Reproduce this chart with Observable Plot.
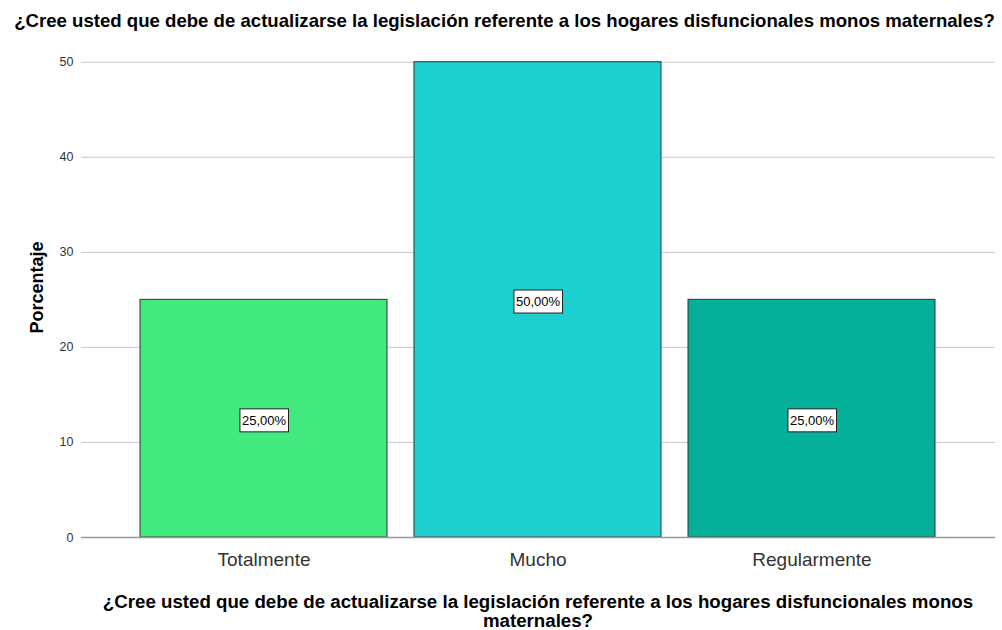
<!DOCTYPE html>
<html>
<head>
<meta charset="utf-8">
<script src="https://cdn.jsdelivr.net/npm/d3@7"></script>
<script src="https://cdn.jsdelivr.net/npm/@observablehq/plot@0.6"></script>
<style>
  html, body { margin: 0; padding: 0; background: #fff; }
  body { width: 1002px; height: 630px; overflow: hidden; font-family: "Liberation Sans", Arial, sans-serif; }
  #title { box-sizing: border-box; height: 30px; padding-top: 7px; padding-left: 7px; line-height: 28px; text-align: center; font-weight: bold; font-size: 18.6px; color: #000; white-space: nowrap; }
  #title span { display: inline-block; height: 23px; line-height: 28px; }
  #xtitle { width: 1002px; text-align: center; font-weight: bold; font-size: 18.7px; line-height: 19px; color: #000; margin-top: 15px; }
  #xtitle div { width: 914px; margin-left: 81px; white-space: nowrap; }
  #chart svg { display: block; }
</style>
</head>
<body>
<div id="title"></div>
<div id="chart"></div>
<div id="xtitle"><div></div></div>
<script>
const title = "¿Cree usted que debe de actualizarse la legislación referente a los hogares disfuncionales monos maternales?";
const xTitleLines = ["¿Cree usted que debe de actualizarse la legislación referente a los hogares disfuncionales monos", "maternales?"];
const yLabel = "Porcentaje";
const categories = ["Totalmente", "Mucho", "Regularmente"];
const percents = [25, 50, 25];
const colors = ["#42E97F", "#1ECFCF", "#05B09B"];
const yTicks = [0, 10, 20, 30, 40, 50];

const tEl = document.getElementById("title");
const tSpan = document.createElement("span");
tSpan.textContent = title;
tEl.appendChild(tSpan);
document.querySelector("#xtitle div").innerHTML = xTitleLines.map(s => s.replace(/&/g, "&amp;").replace(/</g, "&lt;")).join("<br>");

const data = categories.map((c, i) => ({category: c, value: percents[i], color: colors[i]}));
const fmt = v => v.toFixed(2).replace(".", ",") + "%";

const plot = Plot.plot({
  width: 1002,
  height: 547,
  marginTop: 7,
  marginBottom: 40,
  marginLeft: 81,
  marginRight: 7,
  style: {fontFamily: "Liberation Sans, Arial, sans-serif", background: "#fff"},
  x: {domain: categories, paddingInner: 0.0985, paddingOuter: 0.217, label: null},
  y: {domain: [0, 52.6], label: null},
  marks: [
    Plot.gridY(yTicks.filter(t => t > 0), {stroke: "#c8c8c8", strokeOpacity: 1, strokeWidth: 1}),
    Plot.barY(data, {x: "category", y: "value", fill: "color", stroke: "#333", strokeWidth: 1}),
    Plot.ruleX([0], {frameAnchor: "left", stroke: "#999", strokeWidth: 1.5}),
    Plot.ruleY([0], {stroke: "#999", strokeWidth: 1.5}),
    Plot.axisY({ticks: yTicks, tickSize: 0, tickPadding: 8, fontSize: 12.5, color: "#333", label: null}),
    Plot.axisX({tickSize: 0, tickPadding: 15, fontSize: 19, color: "#333", label: null}),
    Plot.text([yLabel], {frameAnchor: "left", dx: -44, rotate: -90, textAnchor: "middle", fontSize: 18, fontWeight: "bold", fill: "#000"}),
    Plot.text(data, {x: "category", y: d => d.value / 2, dy: 2, text: d => fmt(d.value), fontSize: 13, fill: "#000"})
  ]
});
document.getElementById("chart").appendChild(plot);

// white boxes with black borders behind the bar labels
const ns = "http://www.w3.org/2000/svg";
Array.from(plot.querySelectorAll("text")).filter(t => /%$/.test(t.textContent.trim())).forEach(t => {
  const b = t.getBBox();
  const r = document.createElementNS(ns, "rect");
  r.setAttribute("x", b.x - 2);
  r.setAttribute("y", b.y - 4);
  r.setAttribute("width", b.width + 4);
  r.setAttribute("height", b.height + 8);
  r.setAttribute("fill", "#fff");
  r.setAttribute("stroke", "#222");
  r.setAttribute("stroke-width", 1);
  if (t.getAttribute("transform")) r.setAttribute("transform", t.getAttribute("transform"));
  t.parentNode.insertBefore(r, t);
});
</script>
</body>
</html>
